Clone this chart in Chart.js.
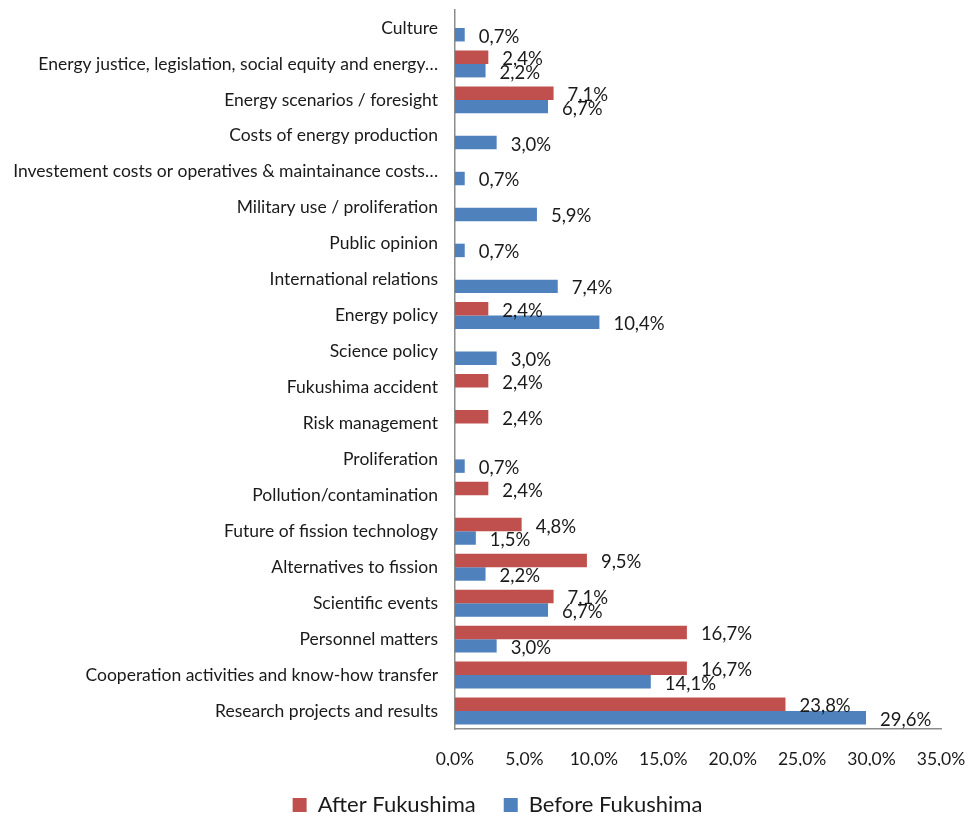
<!DOCTYPE html>
<html>
<head>
<meta charset="utf-8">
<script src="https://cdn.jsdelivr.net/npm/chart.js@4"></script>
<style>
    html, body { margin: 0; padding: 0; background: #fff; }
    #container { width: 972px; height: 820px; }
</style>
</head>
<body>
<div id="container"><canvas id="barChart"></canvas></div>
<script>
var categories = [
    "Culture",
    "Energy justice, legislation, social equity and energy\u2026",
    "Energy scenarios / foresight",
    "Costs of energy production",
    "Investement costs or operatives & maintainance costs\u2026",
    "Military use / proliferation",
    "Public opinion",
    "International relations",
    "Energy policy",
    "Science policy",
    "Fukushima accident",
    "Risk management",
    "Proliferation",
    "Pollution/contamination",
    "Future of fission technology",
    "Alternatives to fission",
    "Scientific events",
    "Personnel matters",
    "Cooperation activities and know-how transfer",
    "Research projects and results"
];
var afterFukushima = [null, 2.4, 7.1, null, null, null, null, null, 2.4, null, 2.4, 2.4, null, 2.4, 4.8, 9.5, 7.1, 16.7, 16.7, 23.8];
var beforeFukushima = [0.7, 2.2, 6.7, 3.0, 0.7, 5.9, 0.7, 7.4, 10.4, 3.0, null, null, 0.7, null, 1.5, 2.2, 6.7, 3.0, 14.1, 29.6];
var seriesNames = ["After Fukushima", "Before Fukushima"];
var xTicks = [0, 5, 10, 15, 20, 25, 30, 35];

var fontFamily = "Lato, 'Liberation Sans', sans-serif";

function pct(v) {
    return v.toFixed(1).replace('.', ',') + '%';
}

// value labels at the end of every bar
var valueLabels = {
    id: 'valueLabels',
    afterDatasetsDraw: function (chart) {
        var ctx = chart.ctx;
        ctx.save();
        ctx.font = '18.5px ' + fontFamily;
        ctx.fillStyle = '#1a1a1a';
        ctx.textAlign = 'left';
        ctx.textBaseline = 'middle';
        chart.data.datasets.forEach(function (ds, i) {
            var meta = chart.getDatasetMeta(i);
            meta.data.forEach(function (bar, j) {
                var v = ds.data[j];
                if (v === null) return;
                ctx.fillText(pct(v), bar.x + 14, bar.y + 2);
            });
        });
        ctx.restore();
    }
};

// legend sits a bit right of the canvas centre in the original
var legendShift = {
    id: 'legendShift',
    afterLayout: function (chart) {
        chart.legend.left += 27;
        chart.legend.right += 27;
    }
};

function drawCanvas() {
    var c = document.getElementById('barChart');
    c.width = 972;
    c.height = 820;
    var chart = new Chart(c.getContext('2d'), {
        type: 'bar',
        data: {
            labels: categories,
            datasets: [{
                label: seriesNames[0],
                data: afterFukushima,
                backgroundColor: '#C0504D'
            }, {
                label: seriesNames[1],
                data: beforeFukushima,
                backgroundColor: '#4F81BD'
            }]
        },
        options: {
            indexAxis: 'y',
            responsive: false,
            animation: false,
            categoryPercentage: 0.75,
            barPercentage: 1.0,
            layout: { padding: { top: 10, right: 31, left: 0, bottom: -6 } },
            scales: {
                x: {
                    min: 0,
                    max: 35,
                    afterBuildTicks: function (scale) {
                        scale.ticks = xTicks.map(function (v) { return { value: v }; });
                    },
                    afterFit: function (scale) {
                        scale.height = 37;
                        scale.paddingLeft = 0;
                        scale.paddingRight = 0;
                    },
                    grid: { display: false, drawTicks: false },
                    border: { color: '#8c8c8c', width: 1.5 },
                    ticks: {
                        padding: 20,
                        color: '#1a1a1a',
                        font: { family: fontFamily, size: 17.5 },
                        callback: function (v) { return pct(v); }
                    }
                },
                y: {
                    afterFit: function (scale) {
                        scale.width = 455;
                        scale.paddingTop = 0;
                        scale.paddingBottom = 0;
                    },
                    grid: { display: false, drawTicks: false },
                    border: { color: '#8c8c8c', width: 1.5 },
                    ticks: {
                        padding: 17,
                        autoSkip: false,
                        color: '#1a1a1a',
                        font: { family: fontFamily, size: 17.5 }
                    }
                }
            },
            plugins: {
                legend: {
                    position: 'bottom',
                    labels: {
                        boxWidth: 14,
                        boxHeight: 14,
                        padding: 28,
                        color: '#1a1a1a',
                        font: { family: fontFamily, size: 22 }
                    }
                },
                tooltip: { enabled: false }
            }
        },
        plugins: [valueLabels, legendShift]
    });
}

drawCanvas();
</script>
</body>
</html>
